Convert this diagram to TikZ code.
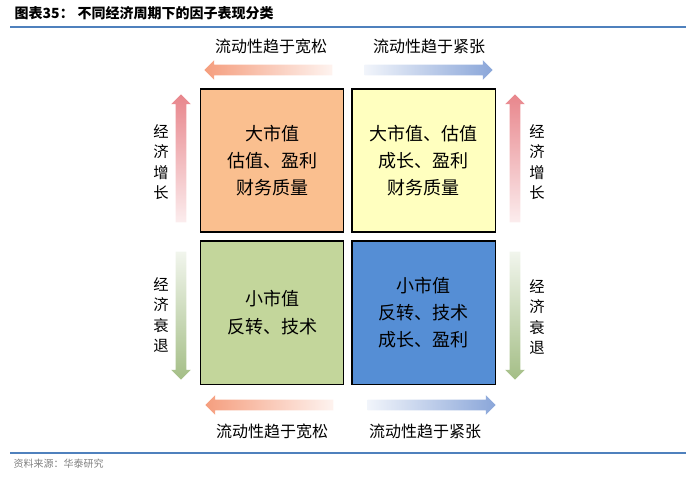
\documentclass[tikz,border=0pt]{standalone}
\usepackage{fontspec}
\newfontfamily\cjk{Noto Sans CJK SC}
\usetikzlibrary{shapes.arrows, positioning}
\definecolor{boxorange}{RGB}{250,191,143}
\definecolor{boxyellow}{RGB}{255,255,191}
\definecolor{boxgreen}{RGB}{195,214,155}
\definecolor{boxblue}{RGB}{85,142,213}
\definecolor{arrorange}{RGB}{245,158,126}
\definecolor{arrblue}{RGB}{138,166,217}
\definecolor{arrred}{RGB}{232,134,140}
\definecolor{arrgreen}{RGB}{164,190,134}
\definecolor{rulebl}{RGB}{79,129,189}

\begin{document}
\begin{tikzpicture}[x=0.75pt, y=-0.75pt,
    quad/.style={draw=black, line width=1.1pt, minimum width=107.5pt, minimum height=107.5pt,
        align=center, font=\cjk\fontsize{13.5}{20.5}\selectfont},
    lab/.style={font=\cjk\fontsize{12}{14}\selectfont},
    vlab/.style={align=center, font=\cjk\fontsize{11.5}{15.2}\selectfont},
    blockarr/.style={single arrow, draw=none, inner sep=3.75pt, outer sep=0pt,
        single arrow head extend=3.4pt, minimum height=96pt}]
    \useasboundingbox (0,0) rectangle (700,477);
    % title and rules
    \node[anchor=west, font=\cjk\bfseries\fontsize{10.5}{12}\selectfont] (ttlno) at (10,13) {图表35：};
    \node[anchor=west, font=\cjk\bfseries\fontsize{10.5}{12}\selectfont] (ttl) at (73,13) {不同经济周期下的因子表现分类};
    \draw[rulebl, line width=1.5pt] (10,27) -- (686,27);
    \draw[rulebl, line width=1.5pt] (10,453) -- (686,453);
    \node[anchor=west, text=gray, font=\cjk\fontsize{7.5}{9}\selectfont] (src) at (9,464) {资料来源：华泰研究};
    % four quadrants
    \node[quad, fill=boxorange] (tl) at (272,160.5) {大市值\\估值、盈利\\财务质量};
    \node[quad, fill=boxyellow, right=5.2pt of tl] (tr) {大市值、估值\\成长、盈利\\财务质量};
    \node[quad, fill=boxgreen, below=5.6pt of tl] (bl) {小市值\\反转、技术};
    \node[quad, fill=boxblue, right=5.2pt of bl] (br) {小市值\\反转、技术\\成长、盈利};
    % liquidity arrows
    \node[blockarr, shape border rotate=180, left color=arrorange, right color=arrorange!12] (lqt) at (271,70) {};
    \node[blockarr, left color=arrblue!12, right color=arrblue] (tgt) at (426,70) {};
    \node[blockarr, shape border rotate=180, left color=arrorange, right color=arrorange!12] (lqb) at (272,405) {};
    \node[blockarr, left color=arrblue!12, right color=arrblue] (tgb) at (429,405) {};
    \node[lab] (lqtl) at (271,46) {流动性趋于宽松};
    \node[lab] (tgtl) at (429,46) {流动性趋于紧张};
    \node[lab] (lqbl) at (272,431) {流动性趋于宽松};
    \node[lab] (tgbl) at (425,431) {流动性趋于紧张};
    % growth / recession arrows
    \node[blockarr, shape border rotate=90, top color=arrred, bottom color=arrred!15] (gwl) at (181,161) {};
    \node[blockarr, shape border rotate=270, top color=arrgreen!15, bottom color=arrgreen] (rcl) at (181,313) {};
    \node[blockarr, shape border rotate=90, top color=arrred, bottom color=arrred!15] (gwr) at (515,161) {};
    \node[blockarr, shape border rotate=270, top color=arrgreen!15, bottom color=arrgreen] (rcr) at (515,313) {};
    \node[vlab] (gwll) at (161,162) {经\\济\\增\\长};
    \node[vlab] (rcll) at (161,315) {经\\济\\衰\\退};
    \node[vlab] (gwrl) at (537,162) {经\\济\\增\\长};
    \node[vlab] (rcrl) at (537,317) {经\\济\\衰\\退};
\end{tikzpicture}
\end{document}
